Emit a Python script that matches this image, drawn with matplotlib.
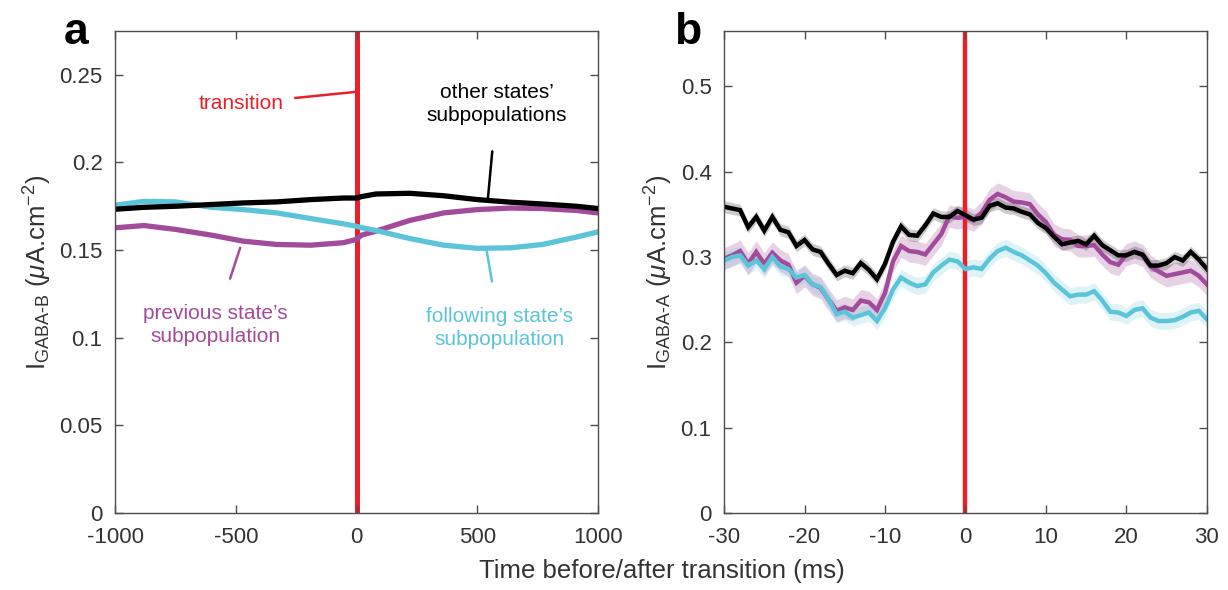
import numpy as np
import matplotlib.pyplot as plt

plt.rcParams['font.family'] = ['Liberation Sans', 'DejaVu Sans']
plt.rcParams['mathtext.fontset'] = 'custom'
plt.rcParams['mathtext.rm'] = 'Liberation Sans'
plt.rcParams['mathtext.it'] = 'Liberation Sans:italic'
plt.rcParams['mathtext.default'] = 'regular'
plt.rcParams['axes.unicode_minus'] = False

# ---- panel a data (GABA-B, slow) ----
t_a = [-1000, -880, -750, -600, -470, -330, -190, -55, 0, 20, 80, 220, 360, 500, 640, 770, 910, 1000]
gabab_other = [0.1733, 0.1744, 0.1750, 0.1760, 0.1769, 0.1775, 0.1788, 0.1797, 0.1797, 0.1805,
               0.1820, 0.1824, 0.1810, 0.1788, 0.1773, 0.1763, 0.1750, 0.1737]
gabab_prev = [0.1627, 0.1640, 0.1618, 0.1585, 0.1551, 0.1532, 0.1528, 0.1542, 0.1561, 0.1585,
              0.1608, 0.1669, 0.1712, 0.1731, 0.1740, 0.1737, 0.1726, 0.1712]
gabab_next = [0.1756, 0.1778, 0.1775, 0.1744, 0.1731, 0.1712, 0.1680, 0.1650, 0.1636, 0.1628,
              0.1612, 0.1566, 0.1528, 0.1510, 0.1513, 0.1532, 0.1574, 0.1604]
sem_a = 0.0009

# ---- panel b data (GABA-A, fast) ----
t_b = list(range(-30, 31))
gabaa_other = [0.359, 0.357, 0.355, 0.335, 0.347, 0.331, 0.347, 0.332, 0.329, 0.313,
               0.320, 0.309, 0.306, 0.292, 0.279, 0.284, 0.281, 0.293, 0.285, 0.274,
               0.292, 0.318, 0.336, 0.326, 0.325, 0.337, 0.351, 0.347, 0.347, 0.354,
               0.349,
               0.344, 0.346, 0.360, 0.363, 0.358, 0.357, 0.353, 0.350, 0.340, 0.334,
               0.324, 0.315, 0.317, 0.319, 0.315, 0.325, 0.314, 0.308, 0.302, 0.302,
               0.306, 0.303, 0.290, 0.290, 0.293, 0.300, 0.296, 0.306, 0.297, 0.286]
gabaa_prev = [0.298, 0.302, 0.307, 0.292, 0.306, 0.292, 0.305, 0.296, 0.291, 0.270,
              0.278, 0.268, 0.264, 0.250, 0.237, 0.241, 0.238, 0.249, 0.247, 0.238,
              0.258, 0.295, 0.313, 0.307, 0.306, 0.303, 0.315, 0.327, 0.348, 0.346,
              0.347,
              0.343, 0.352, 0.367, 0.374, 0.370, 0.365, 0.364, 0.362, 0.350, 0.341,
              0.326, 0.321, 0.320, 0.313, 0.313, 0.314, 0.303, 0.294, 0.291, 0.303,
              0.306, 0.302, 0.289, 0.283, 0.278, 0.280, 0.282, 0.284, 0.278, 0.268]
gabaa_next = [0.296, 0.300, 0.302, 0.290, 0.296, 0.286, 0.300, 0.289, 0.286, 0.276,
              0.279, 0.268, 0.265, 0.250, 0.233, 0.236, 0.229, 0.232, 0.235, 0.225,
              0.240, 0.262, 0.276, 0.270, 0.266, 0.268, 0.282, 0.290, 0.297, 0.295,
              0.286,
              0.288, 0.286, 0.298, 0.307, 0.311, 0.306, 0.302, 0.296, 0.290, 0.281,
              0.270, 0.262, 0.254, 0.256, 0.256, 0.260, 0.249, 0.236, 0.235, 0.231,
              0.238, 0.240, 0.229, 0.225, 0.225, 0.226, 0.230, 0.235, 0.237, 0.227]
sem_b_other = 0.007
sem_b_prev = 0.013
sem_b_next = 0.010

# colours
c_other = '#000000'
c_prev = '#a24b9b'
c_next = '#5cc4d8'
c_red = '#e8202a'
c_axis = '#4d4d4d'
c_text = '#333333'


def style_axes(ax):
    for s in ax.spines.values():
        s.set_color(c_axis)
        s.set_linewidth(1.0)
    ax.tick_params(direction='in', length=6, width=1.0, color=c_axis,
                   labelcolor=c_text, labelsize=16, top=True, right=True)
    ax.tick_params(axis='x', pad=10)
    ax.tick_params(axis='y', pad=9)


def draw_series(ax, t, y, sem, color, lw, band_alpha):
    t = np.asarray(t)
    y = np.asarray(y)
    ax.fill_between(t, y - sem, y + sem, color=color, alpha=band_alpha, lw=0)
    ax.plot(t, y, color=color, lw=lw, solid_joinstyle='miter')


fig = plt.figure(figsize=[12.28, 5.90], dpi=100)
ax1 = fig.add_axes([0.0937, 0.1305, 0.3933, 0.8170])
ax2 = fig.add_axes([0.5896, 0.1305, 0.3932, 0.8170])

# ---- panel a ----
draw_series(ax1, t_a, gabab_prev, sem_a, c_prev, 3.8, 0.3)
draw_series(ax1, t_a, gabab_next, sem_a, c_next, 3.8, 0.3)
draw_series(ax1, t_a, gabab_other, sem_a, c_other, 3.8, 0.3)
ax1.axvline(0, color=c_red, lw=3.6, zorder=1.5)
ax1.set_xlim(-1000, 1000)
ax1.set_ylim(0, 0.275)
ax1.set_xticks([-1000, -500, 0, 500, 1000])
ax1.set_yticks([0, 0.05, 0.1, 0.15, 0.2, 0.25])
ax1.set_yticklabels(['0', '0.05', '0.1', '0.15', '0.2', '0.25'])
ax1.set_ylabel(r'I$_{GABA\text{-}B}$ ($\mathit{\mu}$A.cm$^{-2}$)', fontsize=18.5, color=c_text, labelpad=4)
style_axes(ax1)

ann = dict(fontsize=15, ha='center', va='center', linespacing=1.25)
ax1.annotate('transition', xy=(0, 0.2403), xytext=(-476, 0.2337), color=c_red,
             arrowprops=dict(arrowstyle='-', color=c_red, lw=1.8, shrinkA=6, shrinkB=0), **ann)
ax1.annotate('other states\u2019\nsubpopulations', xy=(543, 0.1779), xytext=(580, 0.2332),
             color='black', arrowprops=dict(arrowstyle='-', color='black', lw=1.8, shrinkA=17, shrinkB=0), **ann)
ax1.annotate('previous state\u2019s\nsubpopulation', xy=(-482, 0.1513), xytext=(-586, 0.1074),
             color=c_prev, arrowprops=dict(arrowstyle='-', color=c_prev, lw=1.8, shrinkA=17, shrinkB=0), **ann)
ax1.annotate('following state\u2019s\nsubpopulation', xy=(539, 0.1494), xytext=(594, 0.1054),
             color=c_next, arrowprops=dict(arrowstyle='-', color=c_next, lw=1.8, shrinkA=17, shrinkB=0), **ann)

# ---- panel b ----
draw_series(ax2, t_b, gabaa_prev, sem_b_prev, c_prev, 3.2, 0.25)
draw_series(ax2, t_b, gabaa_next, sem_b_next, c_next, 3.2, 0.2)
draw_series(ax2, t_b, gabaa_other, sem_b_other, c_other, 3.2, 0.2)
ax2.axvline(0, color=c_red, lw=3.2, zorder=1.5)
ax2.set_xlim(-30, 30)
ax2.set_ylim(0, 0.565)
ax2.set_xticks([-30, -20, -10, 0, 10, 20, 30])
ax2.set_yticks([0, 0.1, 0.2, 0.3, 0.4, 0.5])
ax2.set_yticklabels(['0', '0.1', '0.2', '0.3', '0.4', '0.5'])
ax2.set_ylabel(r'I$_{GABA\text{-}A}$ ($\mathit{\mu}$A.cm$^{-2}$)', fontsize=18.5, color=c_text, labelpad=4)
style_axes(ax2)

# panel letters and shared x label
fig.text(0.052, 0.945, 'a', fontsize=32, fontweight='bold', ha='left', va='center')
fig.text(0.549, 0.945, 'b', fontsize=32, fontweight='bold', ha='left', va='center')
fig.text(0.539, 0.032, 'Time before/after transition (ms)', fontsize=18.5, color=c_text,
         ha='center', va='center')

fig.savefig('out.png', dpi=100)
